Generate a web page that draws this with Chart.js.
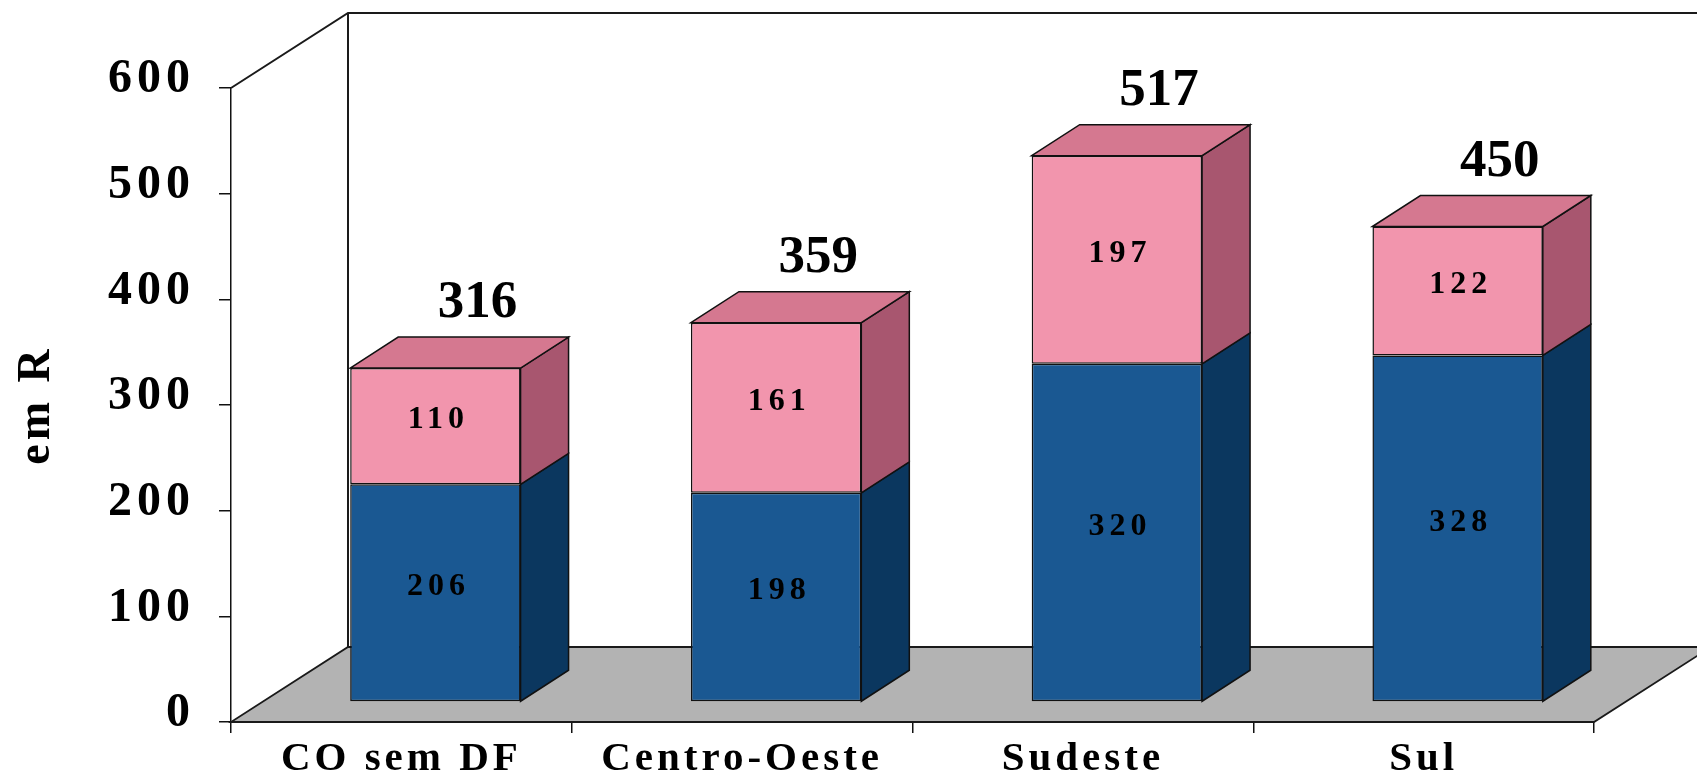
<!DOCTYPE html>
<html><head><meta charset="utf-8">
<script src="https://cdn.jsdelivr.net/npm/chart.js@4"></script>
<style>html,body{margin:0;padding:0;background:#fff}canvas{display:block}</style>
</head><body>
<canvas id="c" width="1697" height="776"></canvas>
<script>
const categories = ['CO sem DF', 'Centro-Oeste', 'Sudeste', 'Sul'];
const baseValues = [206, 198, 320, 328];   // blue (lower) segment
const topValues  = [110, 161, 197, 122];   // pink (upper) segment
const totals     = [316, 359, 517, 450];
const yMin = 0, yMax = 600, yStep = 100;
const yTitle = 'em R';

const SERIF = "'Liberation Serif','Times New Roman',serif";
const COL = {
  blueFront: '#1a5892', blueSide: '#0b375f',
  pinkFront: '#f295ad', pinkTop: '#d57890', pinkSide: '#a8566f',
  floor: '#b3b3b3', line: '#1a1a1a'
};
const FRONT = {dx: 34, dy: -20};   // bar front plane offset
const DEPTH = {dx: 48, dy: -31};   // bar depth
const WALL  = {dx: 117, dy: -75};  // full floor depth

function withSpacing(scale, method, spacing) {
  const key = '_sp_' + method;
  if (scale[key]) return;
  const orig = scale[method].bind(scale);
  scale[method] = function (...args) {
    const ctx = scale.ctx;
    ctx.save(); ctx.letterSpacing = spacing; orig(...args); ctx.restore();
  };
  scale[key] = true;
}

const box3d = {
  id: 'box3d',
  beforeDraw(chart) {
    chart.ctx.letterSpacing = '0px';
    withSpacing(chart.scales.x, 'drawLabels', '4px');
    withSpacing(chart.scales.y, 'drawLabels', '5px');
    withSpacing(chart.scales.y, 'drawTitle', '4px');
  },
  beforeDatasetsDraw(chart) {
    const {ctx, chartArea: a} = chart;
    ctx.save();
    ctx.strokeStyle = COL.line; ctx.lineWidth = 2; ctx.lineJoin = 'miter';
    ctx.beginPath();
    ctx.moveTo(a.left, a.top);
    ctx.lineTo(a.left + WALL.dx, a.top + WALL.dy);
    ctx.lineTo(chart.width + 5, a.top + WALL.dy);
    ctx.moveTo(a.left + WALL.dx, a.top + WALL.dy);
    ctx.lineTo(a.left + WALL.dx, a.bottom + WALL.dy);
    ctx.stroke();
    // floor
    ctx.beginPath();
    ctx.moveTo(a.left, a.bottom);
    ctx.lineTo(a.right, a.bottom);
    ctx.lineTo(a.right + WALL.dx, a.bottom + WALL.dy);
    ctx.lineTo(a.left + WALL.dx, a.bottom + WALL.dy);
    ctx.closePath();
    ctx.fillStyle = COL.floor; ctx.fill();
    ctx.lineWidth = 1.8; ctx.stroke();
    // side & top faces
    ctx.lineWidth = 1.5; ctx.strokeStyle = '#111';
    const n = chart.data.datasets.length;
    chart.data.datasets.forEach((ds, di) => {
      const meta = chart.getDatasetMeta(di);
      meta.data.forEach(el => {
        const p = el.getProps(['x', 'y', 'base', 'width'], true);
        const l = p.x - p.width / 2 + FRONT.dx, r = p.x + p.width / 2 + FRONT.dx;
        const t = Math.min(p.y, p.base) + FRONT.dy, b = Math.max(p.y, p.base) + FRONT.dy;
        ctx.beginPath();
        ctx.moveTo(r, t); ctx.lineTo(r + DEPTH.dx, t + DEPTH.dy);
        ctx.lineTo(r + DEPTH.dx, b + DEPTH.dy); ctx.lineTo(r, b); ctx.closePath();
        ctx.fillStyle = ds.sideColor; ctx.fill(); ctx.stroke();
        if (di === n - 1) {
          ctx.beginPath();
          ctx.moveTo(l, t); ctx.lineTo(l + DEPTH.dx, t + DEPTH.dy);
          ctx.lineTo(r + DEPTH.dx, t + DEPTH.dy); ctx.lineTo(r, t); ctx.closePath();
          ctx.fillStyle = ds.topColor; ctx.fill(); ctx.stroke();
        }
      });
    });
    ctx.restore();
    ctx.save();
    ctx.translate(FRONT.dx, FRONT.dy);
  },
  afterDatasetsDraw(chart) {
    const ctx = chart.ctx;
    ctx.restore();
    ctx.save();
    ctx.fillStyle = '#000';
    ctx.textAlign = 'center';
    // segment labels
    ctx.font = 'bold 32px ' + SERIF;
    ctx.letterSpacing = '5px';
    ctx.textBaseline = 'middle';
    chart.data.datasets.forEach((ds, di) => {
      chart.getDatasetMeta(di).data.forEach((el, i) => {
        const p = el.getProps(['x', 'y', 'base'], true);
        const mid = (p.y + p.base) / 2 + FRONT.dy - 6;
        ctx.fillText(String(ds.data[i]), p.x + FRONT.dx + 3, mid);
      });
    });
    // totals
    ctx.font = 'bold 53px ' + SERIF;
    ctx.letterSpacing = '0px';
    ctx.textBaseline = 'alphabetic';
    const topMeta = chart.getDatasetMeta(chart.data.datasets.length - 1);
    topMeta.data.forEach((el, i) => {
      const p = el.getProps(['x', 'y'], true);
      ctx.fillText(String(totals[i]), p.x + FRONT.dx + 42, p.y + FRONT.dy + DEPTH.dy - 20);
    });
    ctx.restore();
  }
};

new Chart(document.getElementById('c'), {
  type: 'bar',
  data: {
    labels: categories,
    datasets: [
      {label: 'base', data: baseValues, backgroundColor: COL.blueFront, sideColor: COL.blueSide,
       topColor: COL.blueSide, borderColor: '#111', borderWidth: 1.5, borderSkipped: false},
      {label: 'top', data: topValues, backgroundColor: COL.pinkFront, sideColor: COL.pinkSide,
       topColor: COL.pinkTop, borderColor: '#111', borderWidth: 1.5, borderSkipped: false}
    ]
  },
  options: {
    responsive: false, animation: false, devicePixelRatio: 1,
    layout: {padding: {left: 0, right: 103, top: 88, bottom: 0}},
    datasets: {bar: {categoryPercentage: 1, barPercentage: 0.5}},
    plugins: {legend: {display: false}, tooltip: {enabled: false}},
    scales: {
      x: {
        stacked: true, offset: true,
        grid: {display: true, drawOnChartArea: false, offset: true, tickLength: 11, color: '#111', lineWidth: 1.5},
        border: {display: true, color: '#111', width: 1.5},
        ticks: {color: '#000', font: {family: SERIF, size: 41, weight: 'bold'}, padding: 2,
                maxRotation: 0, autoSkip: false},
        afterFit(s) { s.height = 54; }
      },
      y: {
        stacked: true, min: yMin, max: yMax,
        grid: {display: true, drawOnChartArea: false, tickLength: 12, color: '#111', lineWidth: 1.5},
        border: {display: true, color: '#111', width: 1.5},
        ticks: {stepSize: yStep, color: '#000', font: {family: SERIF, size: 48, weight: 'bold'},
                padding: 24, labelOffset: -8},
        title: {display: true, text: yTitle, color: '#000', font: {family: SERIF, size: 46, weight: 'bold'},
                padding: {top: 10, bottom: 0}},
        afterFit(s) { s.width = 231; }
      }
    }
  },
  plugins: [box3d]
});
</script>
</body></html>
